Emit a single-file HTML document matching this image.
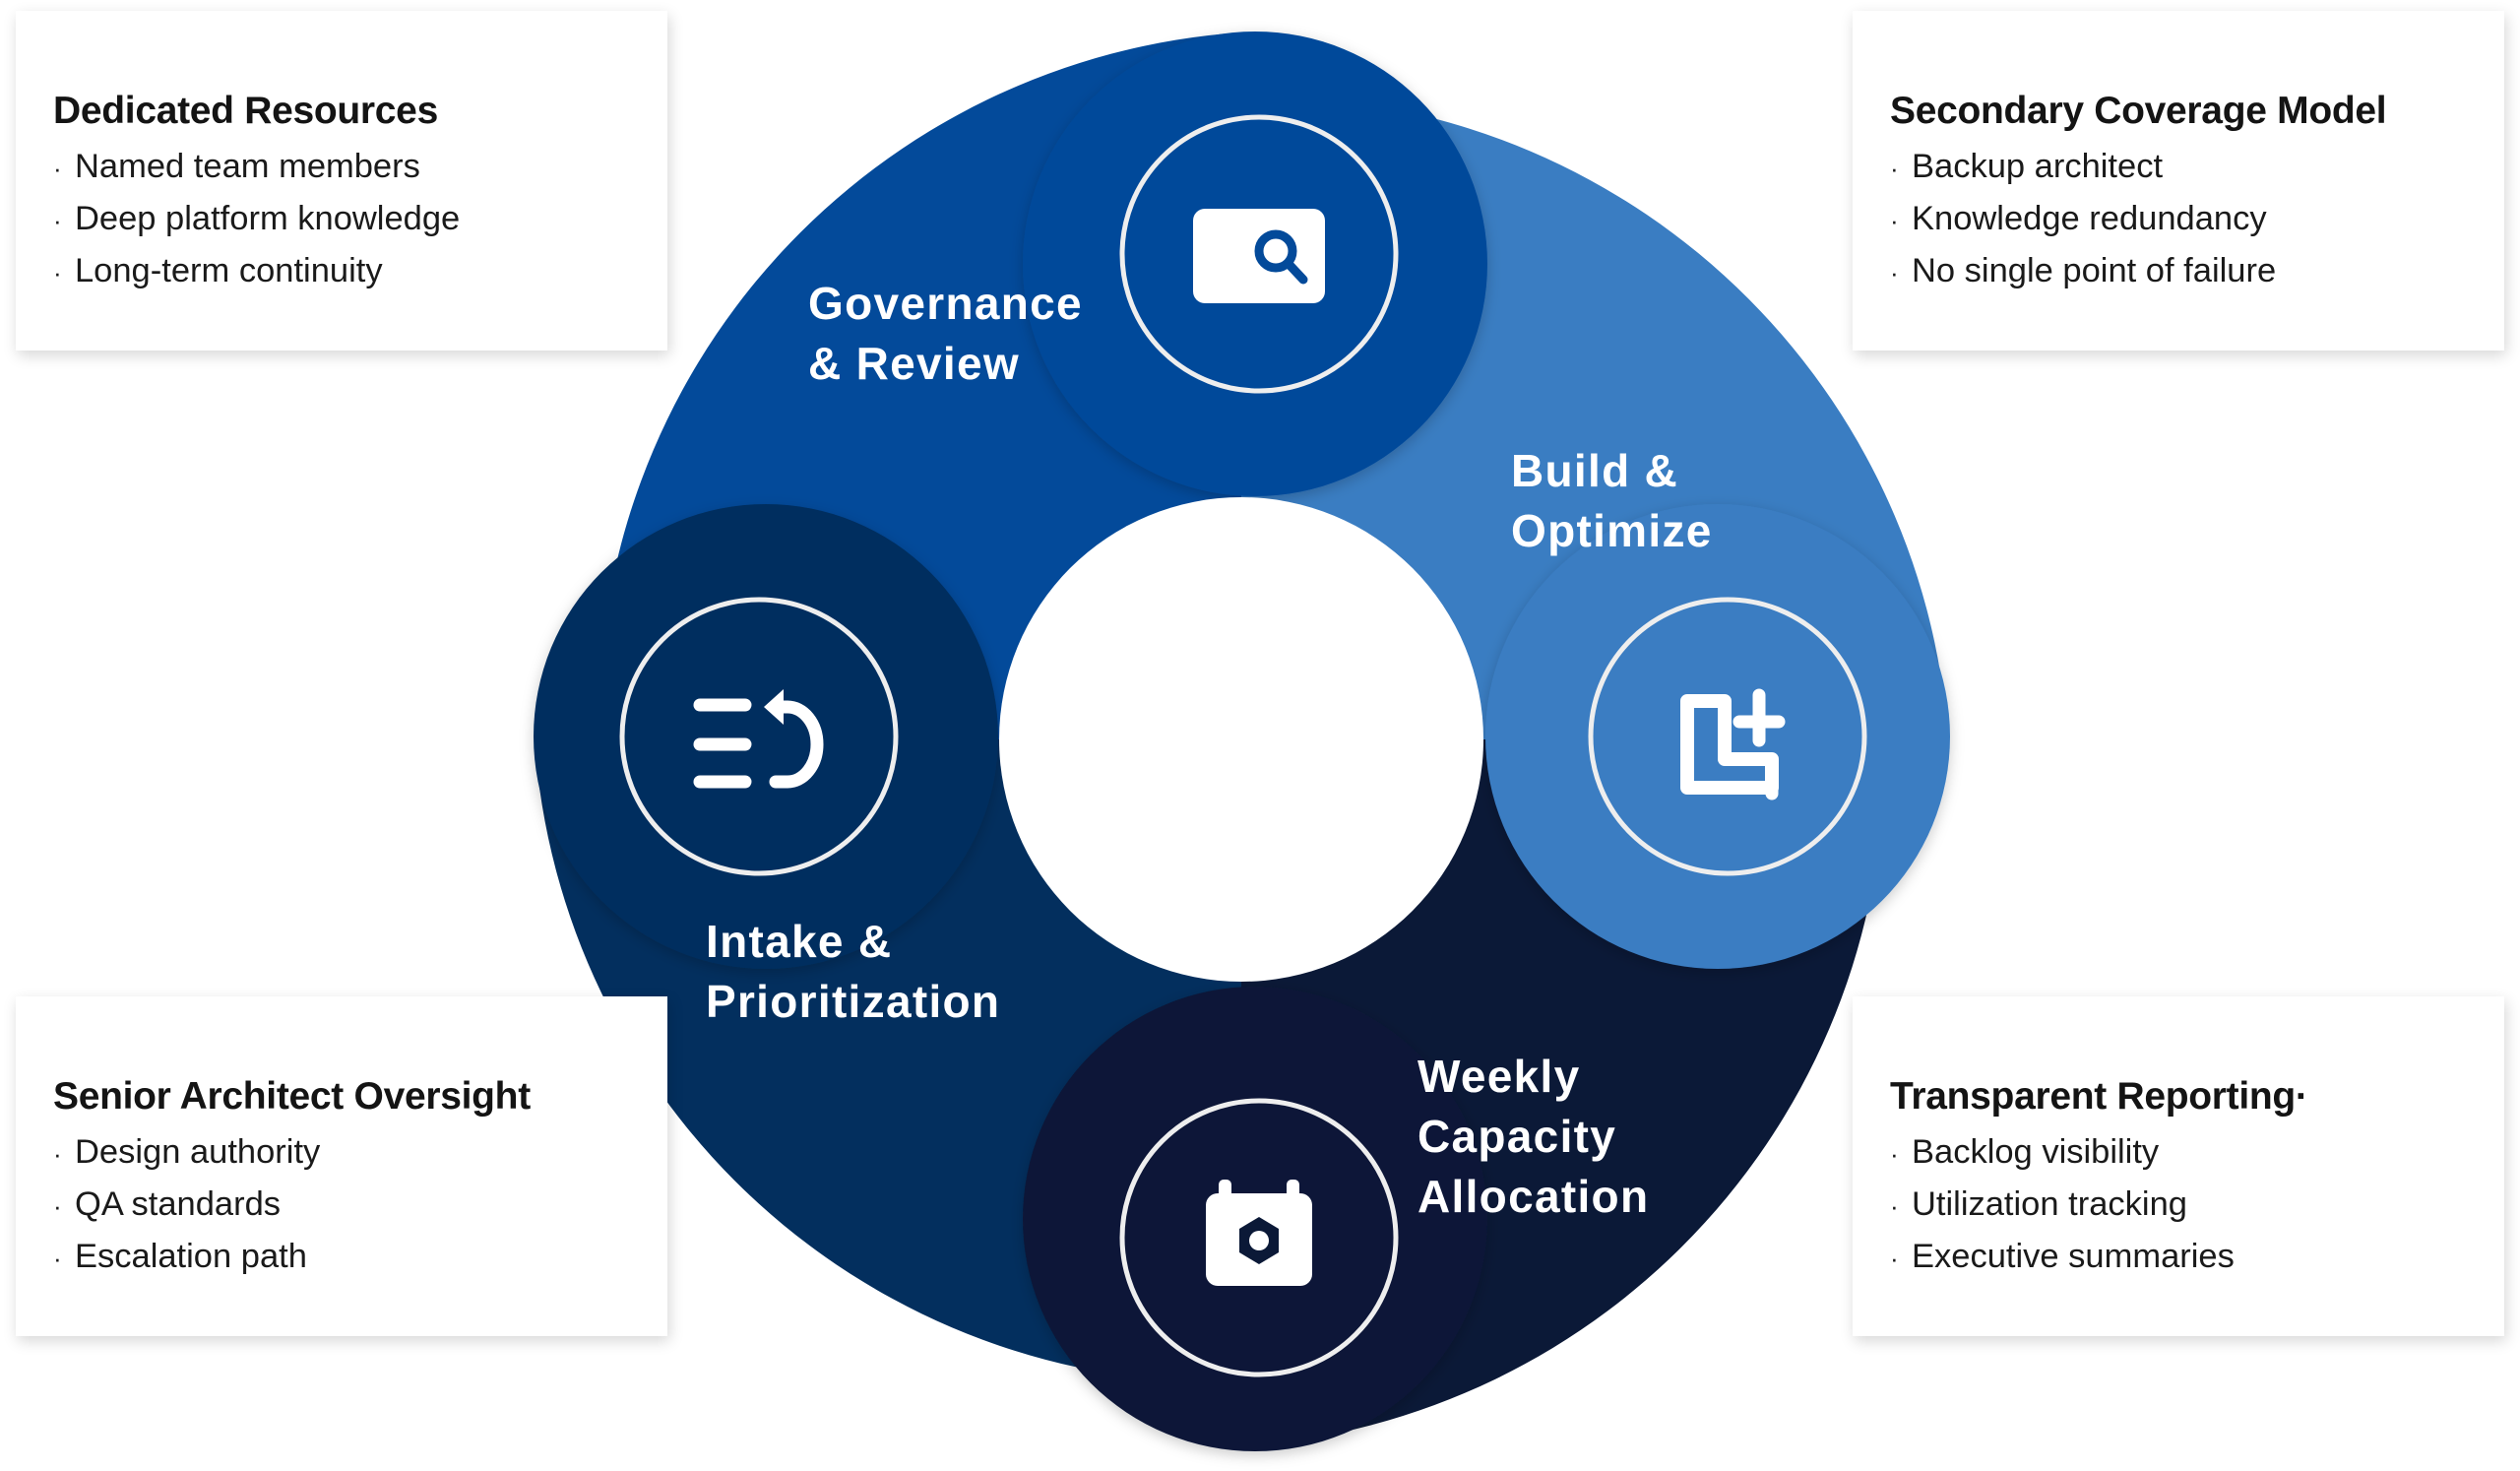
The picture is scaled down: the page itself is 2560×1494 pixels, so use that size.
<!DOCTYPE html>
<html><head><meta charset="utf-8">
<style>
html,body{margin:0;padding:0;background:#fff;}
body{width:2560px;height:1494px;position:relative;overflow:hidden;font-family:"Liberation Sans",sans-serif;}
svg{position:absolute;left:0;top:0;}
.card{position:absolute;width:662px;height:345px;background:#fff;box-shadow:2px 5px 14px rgba(0,0,0,0.16);}
.card h3{position:absolute;left:38px;top:80px;margin:0;font-size:39px;font-weight:bold;color:#141414;letter-spacing:-0.3px;white-space:nowrap;}
.card ul{position:absolute;left:38px;top:132px;margin:0;padding:0;list-style:none;}
.card li{display:block;height:53px;font-size:34.5px;line-height:53px;color:#1a1a1a;white-space:nowrap;overflow:visible;}
.card li span{display:inline-block;width:22px;font-size:26px;line-height:0;}
.lbl{position:absolute;color:#fff;font-weight:bold;font-size:46px;line-height:61px;letter-spacing:1.3px;white-space:nowrap;}
</style></head><body>
<svg width="2560" height="1494" viewBox="0 0 2560 1494">
<defs>
<filter id="sh" x="-30%" y="-30%" width="160%" height="160%"><feDropShadow dx="0" dy="4" stdDeviation="7" flood-color="#000" flood-opacity="0.2"/></filter>
</defs>
<path d="M608 751 A700 700 0 0 1 1261 33 L1261 521 A230 230 0 0 0 1031 751 Z" fill="#034A9A"/>
<path d="M1261 98 A700 700 0 0 1 1979 751 L1491 751 A230 230 0 0 0 1261 521 Z" fill="#3A7DC2"/>
<path d="M1914 751 A700 700 0 0 1 1261 1469 L1261 981 A230 230 0 0 0 1491 751 Z" fill="#0B1937"/>
<path d="M1261 1404 A700 700 0 0 1 543 751 L1031 751 A230 230 0 0 0 1261 981 Z" fill="#032F5E"/>
<circle cx="1275" cy="268" r="236" fill="#034A9A" filter="url(#sh)"/>
<circle cx="1745" cy="748" r="236" fill="#3A7DC2" filter="url(#sh)"/>
<circle cx="1275" cy="1238" r="236" fill="#0B1937" filter="url(#sh)"/>
<circle cx="778" cy="748" r="236" fill="#032F5E" filter="url(#sh)"/>
<circle cx="1261" cy="751" r="246" fill="#fff"/>
<g fill="none" stroke="#eee" stroke-width="5">
<circle cx="1279" cy="258" r="139"/>
<circle cx="1755" cy="748" r="139"/>
<circle cx="1279" cy="1257" r="139"/>
<circle cx="771" cy="748" r="139"/>
</g>
<rect x="1212" y="212" width="134" height="96" rx="12" fill="#fff"/>
<circle cx="1296" cy="255" r="17" fill="none" stroke="#034A9A" stroke-width="9"/>
<line x1="1309" y1="268" x2="1324" y2="284" stroke="#034A9A" stroke-width="9" stroke-linecap="round"/>
<path d="M1714 712 H1752 V771 H1800 V800 H1714 Z" fill="none" stroke="#fff" stroke-width="14" stroke-linejoin="round"/>
<path d="M1787 706 V752 M1767 733 H1807 M1800 771 V806" fill="none" stroke="#fff" stroke-width="13" stroke-linecap="round"/>
<rect x="1225" y="1212" width="108" height="94" rx="12" fill="#fff"/>
<rect x="1238" y="1198" width="13" height="26" rx="5" fill="#fff"/>
<rect x="1307" y="1198" width="13" height="26" rx="5" fill="#fff"/>
<polygon points="1279,1236 1299,1248 1299,1272 1279,1284 1259,1272 1259,1248" fill="#0B1937"/>
<circle cx="1279" cy="1260" r="10" fill="#fff"/>
<g stroke="#fff" stroke-width="13" stroke-linecap="round" fill="none">
<line x1="711" y1="716" x2="757" y2="716"/>
<line x1="711" y1="756" x2="757" y2="756"/>
<line x1="711" y1="794" x2="757" y2="794"/>
<path d="M788 794 H800 A30 38 0 0 0 800 718 H795"/>
</g>
<polygon points="776,718 796,700 796,736" fill="#fff"/>
</svg>

<div class="lbl" style="left:821px;top:278px;">Governance<br>&amp; Review</div>
<div class="lbl" style="left:1535px;top:448px;">Build &amp;<br>Optimize</div>
<div class="lbl" style="left:717px;top:926px;">Intake &amp;<br>Prioritization</div>
<div class="lbl" style="left:1440px;top:1063px;">Weekly<br>Capacity<br>Allocation</div>

<div class="card" style="left:16px;top:11px;"><h3>Dedicated Resources</h3><ul><li><span>·</span>Named team members</li><li><span>·</span>Deep platform knowledge</li><li><span>·</span>Long-term continuity</li></ul></div>
<div class="card" style="left:1882px;top:11px;"><h3>Secondary Coverage Model</h3><ul><li><span>·</span>Backup architect</li><li><span>·</span>Knowledge redundancy</li><li><span>·</span>No single point of failure</li></ul></div>
<div class="card" style="left:16px;top:1012px;"><h3>Senior Architect Oversight</h3><ul><li><span>·</span>Design authority</li><li><span>·</span>QA standards</li><li><span>·</span>Escalation path</li></ul></div>
<div class="card" style="left:1882px;top:1012px;"><h3>Transparent Reporting·</h3><ul><li><span>·</span>Backlog visibility</li><li><span>·</span>Utilization tracking</li><li><span>·</span>Executive summaries</li></ul></div>
</body></html>
